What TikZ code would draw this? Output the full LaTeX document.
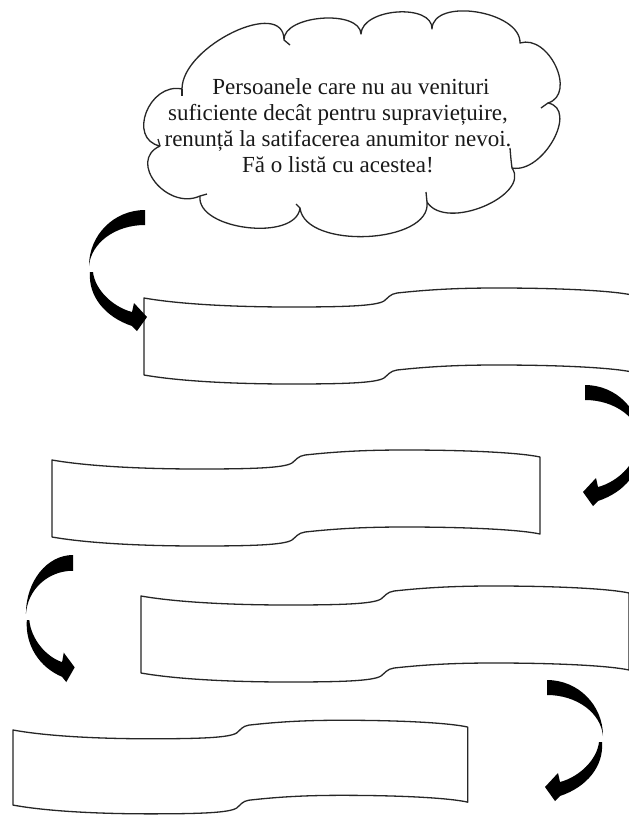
\documentclass[tikz,border=0pt]{standalone}
\usepackage{fontspec}
\setmainfont{Liberation Serif}
\begin{document}
\begin{tikzpicture}[x=1pt,y=-1pt,
  outline/.style={draw=black!85, line width=1.3pt, line join=round},
  banner/.pic={
    \draw[outline] (0,0) .. controls (40,7) and (100,9) .. (146,9)
      .. controls (200,9) and (232,8) .. (240,3)
      .. controls (244,0) and (246,-4) .. (253,-5)
      .. controls (290,-9) and (320,-10) .. (353,-10)
      .. controls (420,-10) and (470,-7) .. (488,-3)
      -- (488,74)
      .. controls (470,70) and (420,67) .. (353,67)
      .. controls (320,67) and (290,68) .. (253,72)
      .. controls (246,73) and (244,77) .. (240,80)
      .. controls (232,85) and (200,86) .. (146,86)
      .. controls (100,86) and (40,84) .. (0,77) -- cycle;
  },
  carrow/.pic={
    \fill[black] (0,0) .. controls (31,0) and (56,25) .. (56,56)
      .. controls (54,33) and (30,15) .. (0,15) -- cycle;
    \fill[black] (55,62) .. controls (57,86) and (40,107) .. (13,116)
      -- (8,121) -- (-2,107) -- (11,93) -- (13,102)
      .. controls (32,97) and (50,80) .. (52,62) -- cycle;
  }
]
\useasboundingbox (0,0) rectangle (629,815);
\clip (0,0) rectangle (629,815);
\fill[white] (0,0) rectangle (629,815);

% cloud
\draw[outline] (160,146)
  .. controls (127,139) and (149,82) .. (182,89)
  .. controls (182,46) and (284,-3) .. (284,40)
  .. controls (283,15) and (360,9) .. (361,34)
  .. controls (362,8) and (433,3) .. (432,29)
  .. controls (433,-3) and (521,11) .. (520,43)
  .. controls (549,34) and (577,94) .. (548,103)
  .. controls (579,109) and (543,174) .. (512,168)
  .. controls (531,195) and (446,232) .. (427,202)
  .. controls (432,244) and (305,250) .. (300,208)
  .. controls (296,242) and (196,230) .. (200,196)
  .. controls (167,211) and (127,161) .. (160,146) -- cycle;
\draw[outline] (182,89) -- (182,96);
\draw[outline] (284,40) -- (290,45);
\draw[outline] (548,103) -- (541,108);
\draw[outline] (512,168) .. controls (511,160) .. (510,148);
\draw[outline] (427,202) -- (426,192);
\draw[outline] (300,208) -- (296,204);
\draw[outline] (200,196) -- (207,194);
\draw[outline] (160,146) -- (158,139);

\node[font=\fontsize{23}{26}\selectfont, text=black!90, align=center, inner sep=0pt] (msg) at (338,126)
  {\hspace*{26pt}Persoanele care nu au venituri\\
   suficiente decât pentru supraviețuire,\\
   renunță la satifacerea anumitor nevoi.\\
   Fă o listă cu acestea!};

% banners
\pic at (144,298) {banner};
\pic at (52,460) {banner};
\pic at (141,596) {banner};
\pic[xscale=0.932, yscale=0.975] at (13,730) {banner};

% curved arrows
\pic[xscale=-1] at (145,210) {carrow};
\pic at (585,385) {carrow};
\pic[xscale=-0.84, yscale=1.05] at (73,555) {carrow};
\pic at (547,680) {carrow};
\end{tikzpicture}
\end{document}
